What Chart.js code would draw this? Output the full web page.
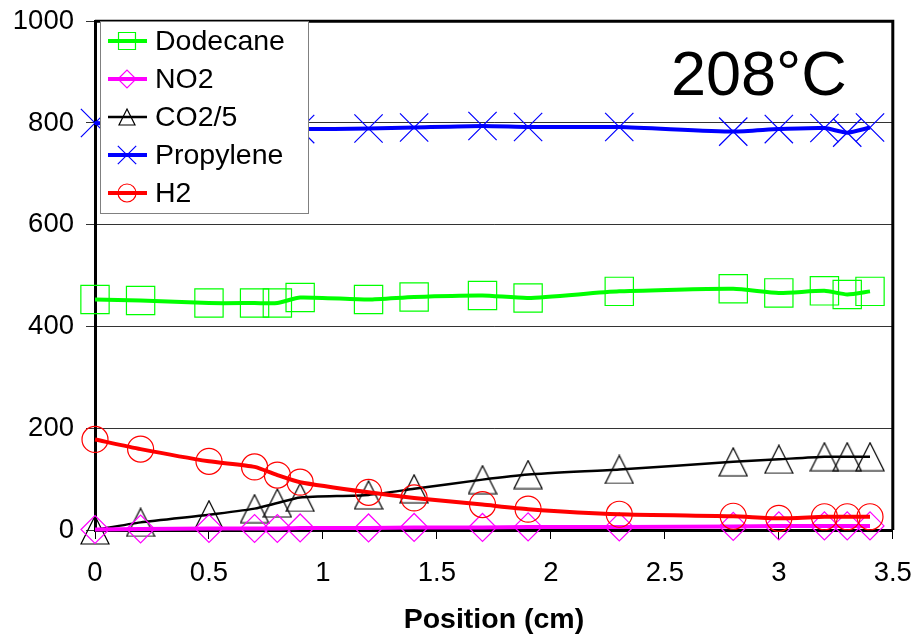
<!DOCTYPE html>
<html>
<head>
<meta charset="utf-8">
<script src="https://cdn.jsdelivr.net/npm/chart.js@4.4.0/dist/chart.umd.min.js"></script>
<style>
html,body{margin:0;padding:0;background:#fff;}
#wrap{width:914px;height:634px;position:relative;}
</style>
</head>
<body>
<div id="wrap"><canvas id="c" width="914" height="634"></canvas></div>
<script>
const positions = [0, 0.2, 0.5, 0.7, 0.8, 0.9, 1.2, 1.4, 1.7, 1.9, 2.3, 2.8, 3.0, 3.2, 3.3, 3.4];
const dodecane  = [453, 451, 446, 446, 446, 457, 453, 458, 461, 456, 469, 474, 466, 470, 463, 469];
const no2       = [1, 2, 3, 3, 3, 4, 4, 5, 5, 6, 6, 7, 8, 8, 8, 8];
const co2_5     = [0, 15, 30, 42, 53, 64, 69, 81, 99, 109, 119, 134, 139, 144, 144, 144];
const propylene = [800, 796, 792, 790, 789, 788, 789, 791, 794, 792, 792, 783, 788, 790, 781, 791];
const h2        = [178, 159, 135, 124, 108, 94, 74, 63, 50, 41, 31, 27, 23, 26, 26, 26];
const seriesNames = ['Dodecane', 'NO2', 'CO2/5', 'Propylene', 'H2'];
const yTicks = [0, 200, 400, 600, 800, 1000];
const xTicks = [0, 0.5, 1, 1.5, 2, 2.5, 3, 3.5];
const annotationText = '208°C';

const FONT = '"Liberation Sans", Arial, sans-serif';

function pts(ys){ return positions.map((x,i)=>({x:x, y:ys[i]})); }

// isosceles triangle marker (box-centred, like the original)
function triangleImage(size, color){
  const c = document.createElement('canvas');
  c.width = size + 2; c.height = size + 2;
  const g = c.getContext('2d');
  g.strokeStyle = color; g.lineWidth = 1.2;
  g.beginPath();
  g.moveTo((size + 2) / 2, 1);
  g.lineTo(size + 1, size + 1);
  g.lineTo(1, size + 1);
  g.closePath();
  g.stroke();
  return c;
}
const triImg = triangleImage(28, '#000');

const styles = [
  {color:'#00ff00', lw:4, ps:'rect', r:20},
  {color:'#ff00ff', lw:4, ps:'rectRot', r:14},
  {color:'#000000', lw:2.5, ps:triImg, r:14},
  {color:'#0000ff', lw:4, ps:'crossRot', r:20},
  {color:'#ff0000', lw:4, ps:'circle', r:13}
];
const seriesData = [dodecane, no2, co2_5, propylene, h2];

const datasets = seriesData.map((d,i)=>({
  label: seriesNames[i],
  data: pts(d),
  borderColor: styles[i].color,
  backgroundColor: 'rgba(0,0,0,0)',
  borderWidth: styles[i].lw,
  pointStyle: styles[i].ps,
  pointRadius: styles[i].r,
  pointBorderWidth: 1.2,
  pointBorderColor: styles[i].color,
  pointBackgroundColor: 'rgba(0,0,0,0)',
  pointHoverRadius: styles[i].r,
  tension: 0.2,
  clip: false,
  order: [3,1,2,4,0][i]
}));

const framePlugin = {
  id: 'frame',
  beforeDatasetsDraw(chart){
    const {ctx, chartArea:a} = chart;
    ctx.save();
    ctx.strokeStyle = '#000';
    ctx.lineWidth = 3;
    ctx.beginPath();
    ctx.moveTo(a.left, a.top);
    ctx.lineTo(a.right, a.top);
    ctx.lineTo(a.right, a.bottom);
    ctx.stroke();
    ctx.restore();
  },
  afterDraw(chart){
    const ctx = chart.ctx;
    ctx.save();
    // annotation
    ctx.fillStyle = '#000';
    ctx.font = '63px ' + FONT;
    ctx.textBaseline = 'alphabetic';
    ctx.textAlign = 'left';
    ctx.fillText(annotationText, 671, 95);
    // legend box
    const bx = 100, by = 21, bw = 208, bh = 192;
    ctx.fillStyle = '#fff';
    ctx.fillRect(bx, by, bw, bh);
    ctx.strokeStyle = '#808080';
    ctx.lineWidth = 1;
    ctx.strokeRect(bx + 0.5, by + 0.5, bw, bh);
    const rows = [41, 79, 117, 155, 193];
    const legR = [12, 9, 8, 13, 9];
    seriesNames.forEach((name, i) => {
      const y = rows[i];
      const s = styles[i];
      ctx.strokeStyle = s.color;
      ctx.lineWidth = s.lw;
      ctx.beginPath();
      ctx.moveTo(108, y);
      ctx.lineTo(147, y);
      ctx.stroke();
      ctx.lineWidth = 1.2;
      const cx = 127, r = legR[i];
      ctx.beginPath();
      if (s.ps === 'rect') {
        const h = r * Math.SQRT1_2;
        ctx.rect(cx - h, y - h, 2*h, 2*h);
      } else if (s.ps === 'rectRot') {
        ctx.moveTo(cx - r, y); ctx.lineTo(cx, y - r); ctx.lineTo(cx + r, y); ctx.lineTo(cx, y + r); ctx.closePath();
      } else if (s.ps === triImg) {
        ctx.moveTo(cx, y - r);
        ctx.lineTo(cx + r, y + r);
        ctx.lineTo(cx - r, y + r);
        ctx.closePath();
      } else if (s.ps === 'crossRot') {
        const h = r * Math.SQRT1_2;
        ctx.moveTo(cx - h, y - h); ctx.lineTo(cx + h, y + h);
        ctx.moveTo(cx + h, y - h); ctx.lineTo(cx - h, y + h);
      } else {
        ctx.arc(cx, y, r, 0, Math.PI*2);
      }
      ctx.stroke();
      ctx.fillStyle = '#000';
      ctx.font = '28.5px ' + FONT;
      ctx.textBaseline = 'middle';
      ctx.fillText(name, 155, y + 1);
    });
    ctx.restore();
  }
};

new Chart(document.getElementById('c'), {
  type: 'line',
  data: { datasets },
  options: {
    responsive: false,
    animation: false,
    events: [],
    layout: { padding: { left: 0, top: 20, right: 21, bottom: 0 } },
    plugins: { legend: { display: false }, tooltip: { enabled: false } },
    scales: {
      x: {
        type: 'linear',
        min: 0, max: 3.5,
        afterBuildTicks(scale){ scale.ticks = xTicks.map(v => ({value: v})); },
        afterFit(scale){ scale.height = 104; scale.paddingLeft = 0; scale.paddingRight = 0; },
        ticks: { color: '#000', font: { family: FONT, size: 27.5 }, padding: 18, maxRotation: 0,
                 callback: v => String(v) },
        grid: { drawOnChartArea: false, drawTicks: true, tickLength: 9, color: '#000', lineWidth: 1 },
        border: { color: '#000', width: 3 },
        title: { display: true, text: 'Position (cm)', color: '#000',
                 font: { family: FONT, size: 28.5, weight: 'bold', lineHeight: 1.0 }, padding: { top: 0, bottom: 0 } }
      },
      y: {
        min: 0, max: 1000,
        afterBuildTicks(scale){ scale.ticks = yTicks.map(v => ({value: v})); },
        afterFit(scale){ scale.width = 95; scale.paddingTop = 0; scale.paddingBottom = 0; },
        ticks: { color: '#000', font: { family: FONT, size: 27.5 }, padding: 12,
                 callback: v => String(v) },
        grid: { color: '#333', lineWidth: 1, tickLength: 9, drawTicks: true },
        border: { color: '#000', width: 3 }
      }
    }
  },
  plugins: [framePlugin]
});
</script>
</body>
</html>
